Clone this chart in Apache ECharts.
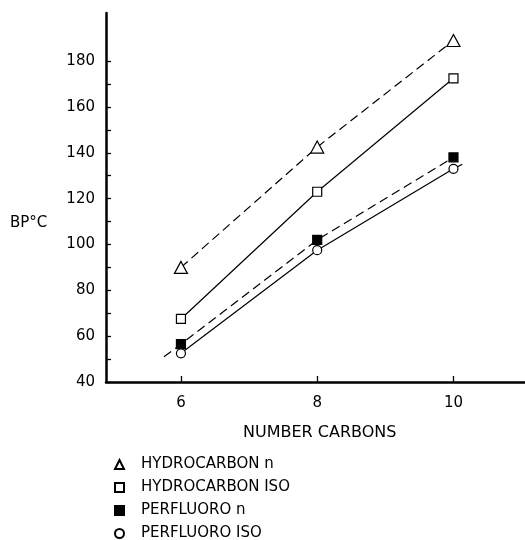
<!DOCTYPE html>
<html>
<head>
<meta charset="utf-8">
<title>BP vs number carbons</title>
<script src="https://cdn.jsdelivr.net/npm/echarts@6/dist/echarts.min.js"></script>
<style>
  html, body { margin: 0; padding: 0; width: 100%; height: 100%; background: #fff; overflow: hidden; }
  #main { width: 525px; height: 540px; }
</style>
</head>
<body>
<div id="main"></div>
<script>
  // values
  var carbons = [6, 8, 10];
  var hcN = [90, 142.5, 189];
  var hcIso = [67.5, 123, 172.5];
  var pfN = [56.5, 102, 138];
  var pfIso = [52.5, 97.5, 133];

  // where the drawn lines start / stop beyond the points
  var pfNStart = [5.75, 51];
  var pfIsoEnd = [10.13, 135];

  var xTicks = [6, 8, 10];
  var yTicks = [40, 50, 60, 70, 80, 90, 100, 110, 120, 130, 140, 150, 160, 170, 180];
  var yLabels = [40, 60, 80, 100, 120, 140, 160, 180];

  var seriesNames = ['HYDROCARBON n', 'HYDROCARBON ISO', 'PERFLUORO n', 'PERFLUORO ISO'];

  var font = 'DejaVu Sans';

  function pairs(xs, ys) {
    return xs.map(function (x, i) { return [x, ys[i]]; });
  }

  function mkSeries(name, pts, symbol, size, fill, dashed) {
    return {
      name: name,
      type: 'line',
      data: pts,
      symbol: symbol,
      symbolSize: size,
      showSymbol: true,
      showAllSymbol: true,
      z: 3,
      itemStyle: { color: fill, borderColor: '#000', borderWidth: 1.2 },
      lineStyle: { color: '#000', width: 1.2, type: dashed ? [9, 5] : 'solid' },
      animation: false,
      silent: true
    };
  }

  var pfNData = [{ value: pfNStart, symbol: 'none' }].concat(pairs(carbons, pfN));
  var pfIsoData = pairs(carbons, pfIso).concat([{ value: pfIsoEnd, symbol: 'none' }]);

  var chart = echarts.init(document.getElementById('main'));
  chart.setOption({
    animation: false,
    backgroundColor: '#fff',
    grid: { left: 106, right: 0, top: 13, bottom: 158 },
    xAxis: {
      type: 'value',
      min: 4.9,
      max: 11.05,
      splitLine: { show: false },
      axisLine: { lineStyle: { color: '#000', width: 2.5 } },
      axisTick: { inside: true, length: 6, customValues: xTicks, lineStyle: { color: '#000', width: 1.3 } },
      axisLabel: { customValues: xTicks, color: '#000', fontFamily: font, fontSize: 15, margin: 14 }
    },
    yAxis: {
      type: 'value',
      min: 40,
      max: 201,
      splitLine: { show: false },
      axisLine: { lineStyle: { color: '#000', width: 2.5 } },
      axisTick: { inside: true, length: 5, customValues: yTicks, lineStyle: { color: '#000', width: 1.3 } },
      axisLabel: { customValues: yLabels, color: '#000', fontFamily: font, fontSize: 15, margin: 11 }
    },
    legend: {
      orient: 'vertical',
      left: 114,
      top: 457,
      height: 200,
      padding: 0,
      itemWidth: 9,
      itemHeight: 9,
      itemGap: 8,
      selectedMode: false,
      textStyle: { color: '#000', fontFamily: font, fontSize: 15, lineHeight: 15, padding: [0, 0, 0, 12] },
      data: [
        { name: seriesNames[0], icon: 'triangle' },
        { name: seriesNames[1], icon: 'rect' },
        { name: seriesNames[2], icon: 'rect' },
        { name: seriesNames[3], icon: 'circle' }
      ]
    },
    graphic: [
      { type: 'text', left: 243, top: 425, style: { text: 'NUMBER CARBONS', fill: '#000', font: '16px "DejaVu Sans"' } },
      { type: 'text', left: 10, top: 216, style: { text: 'BP°C', fill: '#000', font: '15px "DejaVu Sans"' } }
    ],
    series: [
      mkSeries(seriesNames[0], pairs(carbons, hcN), 'triangle', [13, 12], '#fff', true),
      mkSeries(seriesNames[1], pairs(carbons, hcIso), 'rect', 9, '#fff', false),
      mkSeries(seriesNames[2], pfNData, 'rect', 9, '#000', true),
      mkSeries(seriesNames[3], pfIsoData, 'circle', 9, '#fff', false)
    ]
  });
</script>
</body>
</html>
